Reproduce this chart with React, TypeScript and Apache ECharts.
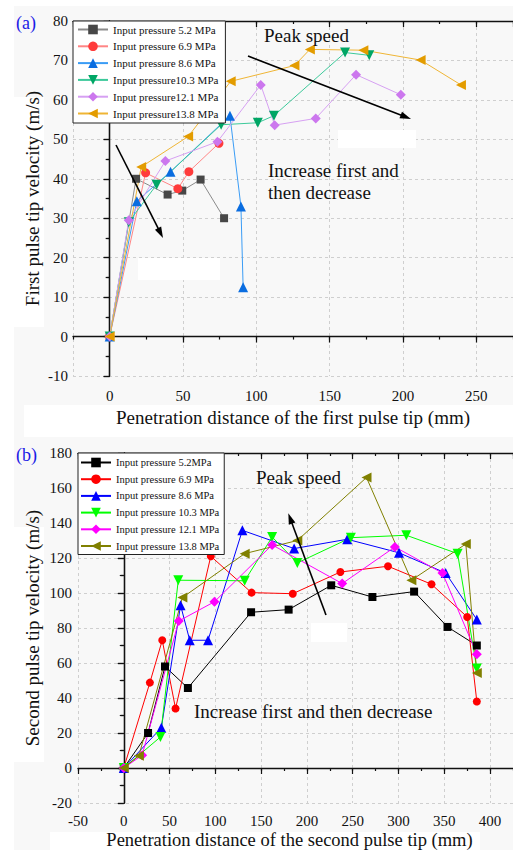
import React, { useEffect, useRef } from 'react';
import * as echarts from 'echarts';

// ---------- Panel (a): first pulse tip ----------
const aLabels = [
  'Input pressure 5.2 MPa',
  'Input pressure 6.9 MPa',
  'Input pressure 8.6 MPa',
  'Input pressure10.3 MPa',
  'Input pressure12.1 MPa',
  'Input pressure13.8 MPa',
];
const a52 = [[0, 0], [18, 40], [39.5, 36], [49.5, 37], [62, 39.8], [78, 30]];
const a69 = [[0, 0], [24.5, 41.5], [46.5, 37.5], [54, 41.8], [74.5, 49]];
const a86 = [[0, 0], [18.5, 34.3], [41.5, 41.8], [82, 56], [89.5, 33], [91, 12.5]];
const a103 = [[0, 0], [13, 29], [32, 38.5], [76, 53.7], [101, 54.2], [112, 56], [160.5, 72], [177, 71.3]];
const a121 = [[0, 0], [13, 29.5], [38, 44.5], [73.5, 49.4], [103, 63.8], [112.5, 53.6], [140.5, 55.3], [168, 66.4], [198.5, 61.3]];
const a138 = [[0, 0], [21.5, 43], [53.5, 50.7], [82.5, 64.7], [126, 68.7], [136.5, 72.8], [173, 72.6], [212, 70.1], [239.5, 63.8]];
const aXRange = [-25, 275];
const aYRange = [-10, 80];

// ---------- Panel (b): second pulse tip ----------
const bLabels = [
  'Input pressure 5.2MPa',
  'Input pressure 6.9 MPa',
  'Input pressure 8.6 MPa',
  'Input pressure 10.3 MPa',
  'Input pressure 12.1 MPa',
  'Input pressure 13.8 MPa',
];
const b52 = [[0, 0], [26.5, 20], [45, 58], [70, 45.7], [139, 89], [180, 90.5], [226.5, 104.4], [271.5, 97.7], [317, 100.8], [353.5, 80.6], [385.5, 70]];
const b69 = [[0, 0], [28.5, 48.8], [42, 73], [56.5, 34], [95, 121], [139.5, 100.2], [184.5, 99.6], [236.5, 112], [288.5, 115.3], [336, 105], [375, 86.3], [385.5, 38]];
const b86 = [[0, 0], [41, 23], [62, 93], [72, 73], [92, 73], [129.5, 135.8], [186, 125.4], [244, 130.7], [300.5, 123], [351.5, 111.4], [385.5, 84.8]];
const b103 = [[0, 0], [40, 17.7], [59.5, 107.3], [132, 107], [162, 132], [189.5, 117.2], [248, 131.6], [308.5, 133], [364.5, 122.5], [385.5, 56.8]];
const b121 = [[0, 0], [20, 7.3], [60, 84], [99, 95], [162, 127.5], [238.5, 105.4], [296, 126.3], [348, 111.4], [385.5, 65]];
const b138 = [[0, 0], [16.5, 7], [64, 97.4], [132, 122.5], [189.5, 130], [265, 166], [314, 107.3], [373.5, 128], [385.5, 54.3]];
const bXRange = [-50, 425];
const bYRange = [-20, 180];

const FONT = "'Liberation Serif', 'Times New Roman', serif";

const aStyles = [
  { symbol: 'rect', rot: 0, size: 8, mark: '#474747', line: '#8a8a8a' },
  { symbol: 'circle', rot: 0, size: 9, mark: '#ff3b3b', line: '#ff8585' },
  { symbol: 'triangle', rot: 0, size: 10, mark: '#0a6de0', line: '#3a9cf5' },
  { symbol: 'triangle', rot: 180, size: 10, mark: '#00a665', line: '#3cc99a' },
  { symbol: 'diamond', rot: 0, size: 10, mark: '#cc77ee', line: '#d6a0f2' },
  { symbol: 'triangle', rot: 90, size: 10, mark: '#e39c00', line: '#efb535' },
];
const bStyles = [
  { symbol: 'rect', rot: 0, size: 8, mark: '#000000', line: '#000000' },
  { symbol: 'circle', rot: 0, size: 8, mark: '#ff0000', line: '#ff0000' },
  { symbol: 'triangle', rot: 0, size: 10, mark: '#0000ff', line: '#0000ff' },
  { symbol: 'triangle', rot: 180, size: 10, mark: '#00ff00', line: '#00ff00' },
  { symbol: 'diamond', rot: 0, size: 10, mark: '#ff00ff', line: '#ff00ff' },
  { symbol: 'triangle', rot: 90, size: 10, mark: '#808000', line: '#808000' },
];

const aData = [a52, a69, a86, a103, a121, a138];
const bData = [b52, b69, b86, b103, b121, b138];

const nameMap: Record<string, string> = {};
aLabels.forEach((l, i) => (nameMap['a' + i] = l));
bLabels.forEach((l, i) => (nameMap['b' + i] = l));

function mkSeries(prefix: string, datas: number[][][], styles: any[], xi: number, yi: number) {
  return datas.map((d, i) => ({
    type: 'line',
    name: prefix + i,
    xAxisIndex: xi,
    yAxisIndex: yi,
    data: d,
    symbol: styles[i].symbol,
    symbolRotate: styles[i].rot,
    symbolSize: styles[i].size,
    showAllSymbol: true,
    itemStyle: { color: styles[i].mark },
    lineStyle: { color: styles[i].line, width: 1 },
    z: 3,
    emphasis: { disabled: true },
  }));
}

const axisTxt = { fontFamily: FONT, fontSize: 15, color: '#111' };
const nameTxt = { fontFamily: FONT, fontSize: 19, color: '#111' };
const splitDashed = { show: true, lineStyle: { color: '#cfcfcf', type: [3, 3] as any, width: 1 } };
const axLine = { show: true, lineStyle: { color: '#111', width: 1.3 } };

function xAxes(grid: number, range: number[], major: any, name: string, nameGap: number, nameExtra: any, labelMargin: number, showMin: boolean) {
  return [
    {
      type: 'value', gridIndex: grid, position: 'bottom', min: range[0], max: range[1], ...major,
      axisLine: axLine,
      axisTick: { show: true, inside: false, length: 6, lineStyle: { color: '#111', width: 1.2 } },
      axisLabel: {
        ...axisTxt, margin: labelMargin, showMinLabel: showMin, showMaxLabel: false,
        formatter: (v: number) => (Math.abs(v % 50) < 1e-9 ? String(Math.round(v)) : ''),
      },
      splitLine: splitDashed,
      name, nameLocation: 'middle', nameGap, nameMoveOverlap: false,
      nameTextStyle: { ...nameTxt, ...nameExtra },
    },
    {
      type: 'value', gridIndex: grid, position: 'bottom', min: range[0], max: range[1], interval: 25,
      axisLine: { show: false },
      axisTick: { show: true, inside: false, length: 3, lineStyle: { color: '#111', width: 1.2 } },
      axisLabel: { show: false }, splitLine: { show: false },
    },
    {
      type: 'value', gridIndex: grid, position: 'top', min: range[0], max: range[1], ...major,
      axisLine: axLine,
      axisTick: { show: true, inside: true, length: 6, lineStyle: { color: '#111', width: 1.2 } },
      axisLabel: { show: false }, splitLine: { show: false },
    },
    {
      type: 'value', gridIndex: grid, position: 'top', min: range[0], max: range[1], interval: 25,
      axisLine: { show: false },
      axisTick: { show: true, inside: true, length: 3, lineStyle: { color: '#111', width: 1.2 } },
      axisLabel: { show: false }, splitLine: { show: false },
    },
  ];
}

function yAxes(grid: number, range: number[], interval: number, name: string, nameGap: number, labelMargin: number) {
  return [
    {
      type: 'value', gridIndex: grid, position: 'left', min: range[0], max: range[1], interval,
      axisLine: axLine,
      axisTick: { show: true, inside: false, length: 6, lineStyle: { color: '#111', width: 1.2 } },
      minorTick: { show: true, splitNumber: 2, length: 3, lineStyle: { color: '#111', width: 1.2 } },
      axisLabel: { ...axisTxt, margin: labelMargin },
      splitLine: splitDashed,
      name, nameLocation: 'middle', nameGap, nameMoveOverlap: false, nameTextStyle: nameTxt,
    },
    {
      type: 'value', gridIndex: grid, position: 'right', min: range[0], max: range[1], interval,
      axisLine: axLine,
      axisTick: { show: true, inside: true, length: 6, lineStyle: { color: '#111', width: 1.2 } },
      minorTick: { show: true, splitNumber: 2, length: 4, lineStyle: { color: '#111', width: 1.2 } },
      axisLabel: { show: false }, splitLine: { show: false },
    },
  ];
}

function arrow(x1: number, y1: number, x2: number, y2: number) {
  const dx = x2 - x1, dy = y2 - y1, len = Math.hypot(dx, dy);
  const ux = dx / len, uy = dy / len;
  const hl = 11, hw = 3.5;
  const bx = x2 - ux * hl, by = y2 - uy * hl;
  return [
    { type: 'line', z: 20, shape: { x1, y1, x2: bx + ux * 2, y2: by + uy * 2 }, style: { stroke: '#000', lineWidth: 1.6 } },
    { type: 'polygon', z: 20, shape: { points: [[x2, y2], [bx - uy * hw, by + ux * hw], [bx + uy * hw, by - ux * hw]] }, style: { fill: '#000' } },
  ];
}

const whiteRects = [
  [0, 0, 513, 6],
  [0, 0, 14, 850],
  [14, 97, 30, 230],
  [24, 405, 489, 32],
  [14, 527, 30, 235],
  [50, 832, 430, 18],
];
const blankRects = [
  [338, 130, 78, 18],
  [138, 258, 82, 22],
  [311, 623, 36, 19],
];

function txt(text: string, x: number, y: number, size: number, fill = '#111', extra: any = {}) {
  return {
    type: 'text', x, y, z: 20,
    style: { text, fontFamily: FONT, fontSize: size, fill, verticalAlign: 'middle', ...extra },
  };
}

const legendBase = {
  orient: 'vertical',
  itemWidth: 30,
  itemHeight: 12,
  backgroundColor: '#ffffff',
  borderColor: '#222',
  borderWidth: 1,
  borderRadius: 0,
  selectedMode: false,
  formatter: (n: string) => nameMap[n],
  textStyle: { fontFamily: FONT, fontSize: 11, color: '#111' },
  z: 10,
};

const option: any = {
  animation: false,
  backgroundColor: '#f8f8f8',
  grid: [
    { left: 73, top: 21, width: 440, height: 355, outerBoundsMode: 'none', containLabel: false },
    { left: 78, top: 453, width: 435, height: 350, outerBoundsMode: 'none', containLabel: false },
  ],
  xAxis: [
    ...xAxes(0, aXRange, { splitNumber: 6 }, 'Penetration distance of the first pulse tip (mm)', 32, {}, 12, false),
    ...xAxes(1, bXRange, { interval: 50 }, 'Penetration distance of the second pulse tip (mm)', 28.5,
      { fontSize: 18.5, lineHeight: 17, padding: [0, 12, 0, 0] }, 10.5, true),
  ],
  yAxis: [
    ...yAxes(0, aYRange, 10, 'First pulse tip velocity (m/s)', 31, 5),
    ...yAxes(1, bYRange, 20, 'Second pulse tip velocity (m/s)', 36, 6),
  ],
  legend: [
    {
      ...legendBase, left: 73, top: 21, padding: [3, 7, 4, 4], itemGap: 5.8,
      data: aLabels.map((_, i) => 'a' + i),
    },
    {
      ...legendBase, left: 78, top: 453, padding: [4, 5, 3, 2], itemGap: 5.7,
      textStyle: { fontFamily: FONT, fontSize: 10.5, color: '#111' },
      data: bLabels.map((_, i) => 'b' + i),
    },
  ],
  series: [...mkSeries('a', aData, aStyles, 0, 0), ...mkSeries('b', bData, bStyles, 4, 2)],
  graphic: [
    ...whiteRects.map(([x, y, w, h]) => ({ type: 'rect', z: -1, shape: { x, y, width: w, height: h }, style: { fill: '#ffffff' } })),
    ...blankRects.map(([x, y, w, h]) => ({ type: 'rect', z: 1, shape: { x, y, width: w, height: h }, style: { fill: '#ffffff' } })),
    txt('(a)', 16, 23, 18, '#1a1ae6'),
    txt('(b)', 16, 455, 18, '#1a1ae6'),
    txt('Peak speed', 264, 35, 19),
    txt('Increase first and\nthen decrease', 268, 159, 19, '#111', { verticalAlign: 'top', lineHeight: 22 }),
    txt('Peak speed', 256, 477, 19),
    txt('Increase first and then decrease', 194, 711, 19),
    ...arrow(248, 56, 411, 119),
    ...arrow(116, 145, 163, 238),
    ...arrow(326, 615, 288.3, 513.3),
  ],
};

export default function App() {
  const ref = useRef<HTMLDivElement>(null);
  useEffect(() => {
    if (!ref.current) return;
    const chart = echarts.init(ref.current, null, { renderer: 'svg' });
    chart.setOption(option);
    return () => chart.dispose();
  }, []);
  return (
    <div
      ref={ref}
      style={{ position: 'absolute', left: 0, top: 0, width: 513, height: 850, overflow: 'hidden' }}
    />
  );
}
